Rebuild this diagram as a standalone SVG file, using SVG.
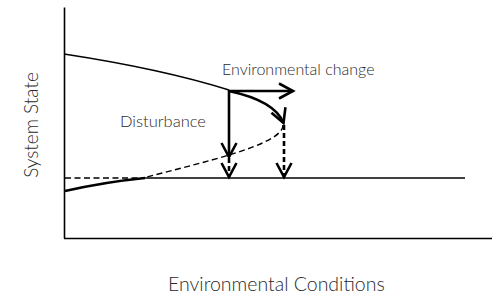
<svg xmlns="http://www.w3.org/2000/svg" width="500" height="303" viewBox="0 0 500 303">
<style>
.lbl{font-family:Lato,"Liberation Sans",sans-serif;font-weight:300;fill:#2a2a2a}
.thin{fill:none;stroke:#000;stroke-width:1.4}
.thick{fill:none;stroke:#000;stroke-width:2.6}
.dash{fill:none;stroke:#000;stroke-width:1.4;stroke-dasharray:6,3.5}
.tdash{fill:none;stroke:#000;stroke-width:2.6;stroke-dasharray:5,3}
</style>
<defs>
<marker id="chev" markerUnits="userSpaceOnUse" markerWidth="20" markerHeight="20" viewBox="-16 -10 20 20" refX="0" refY="0" orient="auto" overflow="visible">
<path d="M-14,-7.5 L0,0 L-14,7.5" fill="none" stroke="#000" stroke-width="2.6" stroke-linejoin="miter"/>
</marker>
</defs>
<g id="axes">
<line x1="64.5" y1="7.5" x2="64.5" y2="238.5" stroke="#000" stroke-width="1.6"/>
<line x1="64" y1="238.5" x2="492" y2="238.5" stroke="#000" stroke-width="1.6"/>
</g>
<g id="curves">
<path class="thin" d="M64,54 Q162,69 229,90"/>
<path class="dash" d="M283,125 C283,145 203,162 143,178"/>
<line class="dash" x1="65" y1="178" x2="143" y2="178"/>
<line class="thin" x1="143" y1="178" x2="465" y2="178"/>
<path class="thick" d="M65,191 Q105,182 145,178"/>
</g>
<g id="connectors">
<line class="thick" x1="229" y1="91" x2="293" y2="91" marker-end="url(#chev)"/>
<path class="thick" d="M229,91 Q275,101 283.5,123" marker-end="url(#chev)"/>
<line class="thick" x1="229" y1="90" x2="229" y2="157" marker-end="url(#chev)"/>
<line class="tdash" x1="229" y1="158" x2="229" y2="177" marker-end="url(#chev)"/>
<line class="tdash" x1="284" y1="125" x2="284" y2="177" marker-end="url(#chev)"/>
</g>
<g id="labels">
<text class="lbl" x="222" y="75" font-size="16">Environmental change</text>
<text class="lbl" x="120" y="127" font-size="16.5">Disturbance</text>
<text class="lbl" x="168" y="291" font-size="19.5">Environmental Conditions</text>
<text class="lbl" font-size="19" transform="translate(38,125) rotate(-90)" text-anchor="middle">System State</text>
</g>
</svg>
